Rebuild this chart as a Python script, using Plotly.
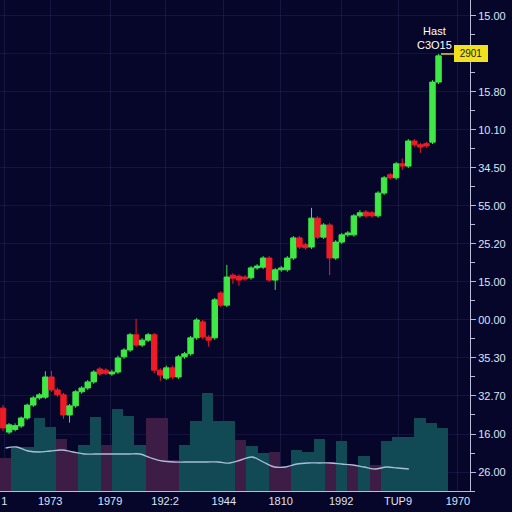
import plotly.graph_objects as go

# candle data (index order)
opens = [21.8, 15.5, 16.2, 17.1, 19.2, 22.6, 24.5, 24.7, 30.0, 26.6, 25.3, 20.0, 22.4, 26.1, 27.1, 28.7,
         32.1, 31.8, 30.8, 31.3, 35.3, 37.1, 41.1, 38.4, 39.7, 41.1, 31.8, 29.7, 32.4, 30.0, 35.3, 36.1,
         40.3, 44.5, 40.5, 40.3, 52.1, 48.9, 56.8, 56.5, 56.3, 56.1, 58.7, 58.9, 61.3, 55.5, 58.2, 58.2,
         61.3, 66.6, 64.8, 64.2, 71.8, 66.8, 70.0, 61.3, 65.5, 67.4, 67.4, 72.4, 73.4, 73.2, 72.4, 78.4,
         83.2, 82.4, 86.1, 85.5, 92.1, 91.1, 91.4, 91.8, 107.6]
closes = [16.6, 17.4, 17.2, 19.2, 22.6, 24.5, 25.3, 30.0, 26.6, 25.3, 20.0, 22.4, 26.1, 27.1, 28.7, 31.3,
          30.8, 31.0, 31.3, 35.0, 37.1, 41.1, 38.4, 39.7, 41.1, 31.8, 30.5, 32.4, 30.0, 35.3, 36.1, 40.3,
          45.0, 40.5, 39.7, 50.3, 48.9, 56.3, 56.0, 55.5, 55.8, 58.7, 59.2, 61.3, 55.5, 58.2, 58.7, 61.3,
          66.6, 64.2, 64.0, 71.8, 66.8, 70.0, 61.3, 65.5, 67.4, 67.9, 72.4, 73.2, 72.4, 72.4, 78.4, 82.4,
          82.4, 86.1, 85.5, 92.1, 91.1, 90.5, 90.8, 107.6, 114.5]
highs = [22.6, 17.9, 17.8, 19.6, 23.0, 25.0, 25.8, 31.5, 31.6, 27.2, 25.8, 22.9, 26.6, 27.6, 29.2, 31.8,
         32.6, 32.3, 31.9, 35.6, 37.6, 41.6, 45.3, 40.2, 41.6, 41.6, 32.3, 33.0, 33.0, 35.8, 36.6, 40.8,
         45.5, 45.0, 41.0, 50.8, 52.6, 59.5, 57.3, 57.0, 56.8, 59.2, 59.7, 61.8, 61.8, 58.7, 59.2, 61.8,
         67.1, 67.1, 65.3, 74.5, 72.3, 70.5, 70.5, 66.0, 67.9, 68.4, 72.9, 73.9, 73.9, 73.7, 78.9, 82.9,
         83.7, 86.6, 87.5, 92.6, 92.6, 91.6, 91.9, 108.1, 115.0]
lows = [15.8, 15.0, 15.7, 16.6, 18.7, 22.1, 24.0, 24.2, 26.1, 24.8, 19.0, 18.0, 21.9, 25.6, 26.6, 28.2,
        30.3, 30.5, 30.3, 30.8, 34.8, 36.6, 37.9, 37.9, 39.2, 31.0, 29.0, 29.2, 29.5, 29.5, 34.8, 35.6,
        39.8, 40.0, 38.0, 39.8, 48.4, 48.4, 54.5, 54.0, 55.3, 55.6, 58.2, 58.4, 55.0, 52.9, 57.7, 57.7,
        60.8, 63.7, 63.5, 63.7, 66.3, 66.3, 56.8, 60.8, 65.0, 66.9, 66.9, 71.9, 71.9, 71.9, 71.9, 77.9,
        81.9, 81.9, 84.5, 85.0, 90.6, 89.0, 90.3, 91.3, 107.1]

# volume blocks and their average line
volumes = [330, 440, 440, 730, 640, 520, 390, 460, 740, 460, 820, 750, 460, 730, 730, 310, 460, 700, 980, 700,
           700, 510, 450, 380, 390, 240, 410, 390, 520, 290, 500, 260, 350, 260, 500, 540, 540, 730, 680, 630]
vol_down = [1, 0, 0, 0, 0, 1, 1, 0, 0, 1, 0, 0, 0, 1, 1, 1, 0, 0, 0, 0,
            0, 1, 0, 0, 1, 1, 0, 0, 0, 1, 0, 1, 0, 1, 0, 0, 0, 0, 0, 0]
vol_avg = [430, 440, 400, 390, 400, 410, 390, 370, 370, 370, 370, 370, 370, 330, 300, 290, 290, 290, 290,
           290, 280, 310, 340, 290, 240, 240, 270, 280, 280, 280, 270, 260, 240, 220, 240, 230, 220]

x_ticks = [0.2, 7.8, 17.7, 26.8, 36.5, 45.9, 55.9, 65.3, 75.2]
x_labels = ["1", "1973", "1979", "192:2", "1944", "1810", "1992", "TUP9", "1970"]
y_ticks = [5, 15, 25, 35, 45, 55, 65, 75, 85, 95, 105, 115, 125]
y_labels = ["26.00", "16.00", "32.70", "35.30", "00.00", "15.00", "25.20", "55.00",
            "34.50", "10.10", "15.80", "", "15.00"]

bg = "#06062a"
teal = "#114a55"
maroon = "#3d1d45"

fig = go.Figure()
fig.add_trace(go.Bar(
    x=list(range(len(volumes))), y=volumes, width=1.0,
    marker=dict(color=[maroon if d else teal for d in vol_down], line=dict(width=0)),
    xaxis="x", yaxis="y", showlegend=False))
fig.add_trace(go.Scatter(
    x=list(range(len(vol_avg))), y=vol_avg, mode="lines",
    line=dict(color="#a9bdd6", width=1.3, shape="spline"),
    xaxis="x", yaxis="y", showlegend=False))
fig.add_trace(go.Candlestick(
    x=list(range(len(opens))), open=opens, high=highs, low=lows, close=closes,
    increasing=dict(line=dict(color="#3fe845", width=1), fillcolor="#3fe845"),
    decreasing=dict(line=dict(color="#ee1c25", width=1), fillcolor="#ee1c25"),
    xaxis="x2", yaxis="y2", showlegend=False))

tick_font = dict(family="Liberation Sans, Arial", size=11, color="#dfe3f5")
fig.update_layout(
    width=512, height=512,
    margin=dict(l=0, r=42, t=0, b=21, pad=0),
    paper_bgcolor=bg, plot_bgcolor=bg,
    boxgap=0.1, boxgroupgap=0, bargap=0,
    xaxis=dict(range=[-0.5, 41.46], visible=False, fixedrange=True),
    yaxis=dict(range=[0, 4910], visible=False),
    xaxis2=dict(overlaying="x", anchor="y2", side="bottom", range=[-0.5, 77.2],
                rangeslider=dict(visible=False),
                tickmode="array", tickvals=x_ticks, ticktext=x_labels, ticks="",
                tickfont=tick_font, showgrid=True, gridcolor="rgba(70,70,130,0.25)", gridwidth=1,
                showline=True, linecolor="#b8bcd8", linewidth=1, zeroline=False),
    yaxis2=dict(overlaying="y", anchor="x2", side="right", range=[0, 129.2],
                tickmode="array", tickvals=y_ticks, ticktext=y_labels,
                ticks="outside", ticklen=5, tickcolor="#b8bcd8", tickfont=tick_font,
                minor=dict(tick0=0, dtick=5, ticks="outside", ticklen=4, tickcolor="#b8bcd8",
                           showgrid=False),
                showgrid=True, gridcolor="rgba(70,70,130,0.22)", gridwidth=1,
                showline=True, linecolor="#b8bcd8", linewidth=1, zeroline=False),
)

last = len(closes) - 1
fig.add_shape(type="line", xref="x2", yref="y2", x0=last + 0.4, x1=77.2,
              y0=highs[-1], y1=highs[-1], line=dict(color="#e8d81a", width=1.5))
fig.add_annotation(xref="x2", yref="y2", x=last - 0.6, y=119.2, text="Hast<br>C3O15",
                   showarrow=False, font=dict(family="Liberation Sans, Arial", size=11, color="#ffffff"))
fig.add_annotation(xref="paper", yref="y2", x=1.038, y=highs[-1], text="2901", showarrow=False,
                   bgcolor="#f2e21b", bordercolor="#f2e21b", borderpad=2, width=28,
                   font=dict(family="Liberation Sans, Arial", size=10, color="#1a1a1a"))

fig.write_html("out.html", config={"displayModeBar": False},
               post_script="document.body.style.margin='0';document.body.style.background='%s';" % bg)
